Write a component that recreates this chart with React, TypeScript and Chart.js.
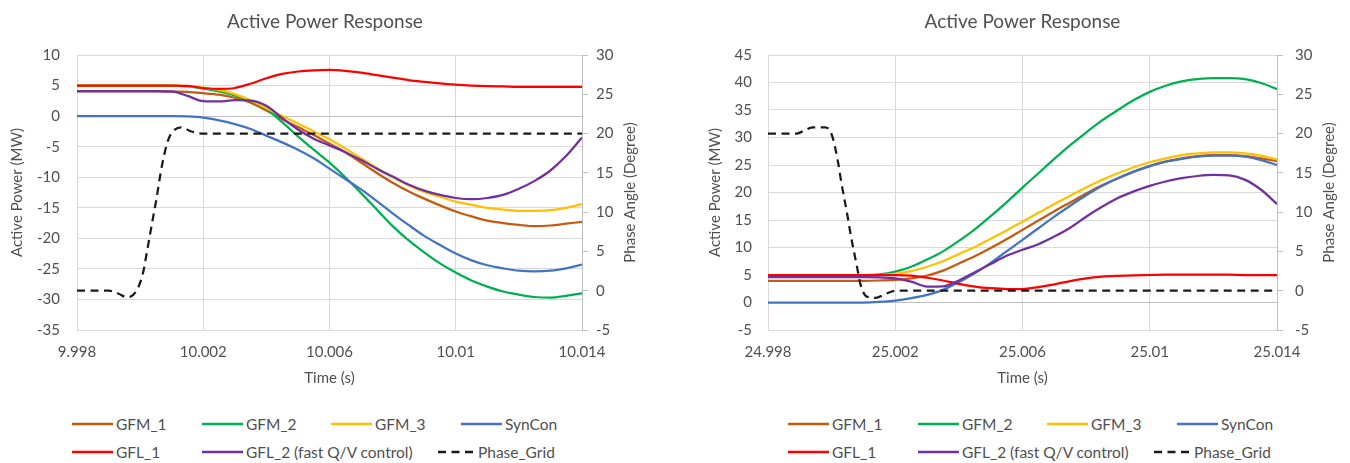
import React, { useEffect, useRef } from 'react';
import { Chart, registerables } from 'chart.js';

Chart.register(...registerables);

const FONT_FAMILY = 'Lato, "Liberation Sans", Arial, sans-serif';
const TEXT = '#505050';
const GRID = '#d9d9d9';
const AXIS = '#bfbfbf';

const SERIES_NAMES = ['GFM_1', 'GFM_2', 'GFM_3', 'SynCon', 'GFL_1', 'GFL_2 (fast Q/V control)', 'Phase_Grid'];
const SERIES_COLORS = ['#C55A11', '#00B050', '#FFC000', '#4472C4', '#FF0000', '#7030A0', '#1a1a1a'];

// ---- First event (around t = 10 s) ----
const timeA = [9.998, 9.9985, 9.999, 9.9995, 10.0, 10.0005, 10.001, 10.0015, 10.002, 10.0025, 10.003, 10.0035, 10.004, 10.0045, 10.005, 10.0055, 10.006, 10.0065, 10.007, 10.0075, 10.008, 10.0085, 10.009, 10.0095, 10.01, 10.0105, 10.011, 10.0115, 10.012, 10.0125, 10.013, 10.0135, 10.014];
const gfm1A = [4.05, 4.05, 4.05, 4.05, 4.05, 4.05, 4.0, 3.95, 3.75, 3.5, 3.0, 2.2, 0.9, -0.5, -1.8, -3.1, -4.5, -5.9, -7.6, -9.3, -10.9, -12.3, -13.5, -14.6, -15.6, -16.4, -17.1, -17.5, -17.8, -18.0, -17.9, -17.6, -17.3];
const gfm2A = [5.0, 5.0, 5.0, 5.0, 5.0, 5.0, 5.0, 4.85, 4.5, 4.05, 3.4, 2.5, 1.2, -1.0, -3.3, -5.5, -7.6, -10.0, -12.6, -15.3, -18.0, -20.3, -22.3, -24.1, -25.6, -26.9, -27.9, -28.7, -29.2, -29.6, -29.7, -29.4, -29.0];
const gfm3A = [5.0, 5.0, 5.0, 5.0, 5.0, 5.0, 5.0, 4.9, 4.65, 4.3, 3.6, 2.6, 1.3, 0.0, -1.2, -2.5, -3.8, -5.3, -6.9, -8.5, -10.0, -11.3, -12.4, -13.2, -14.0, -14.5, -15.0, -15.3, -15.5, -15.5, -15.4, -15.0, -14.4];
const synconA = [0, 0, 0, 0, 0, 0, 0, -0.05, -0.25, -0.7, -1.3, -2.1, -3.2, -4.3, -5.5, -6.9, -8.6, -10.3, -12.0, -13.9, -15.9, -17.8, -19.6, -21.1, -22.5, -23.6, -24.4, -24.9, -25.3, -25.4, -25.3, -24.9, -24.3];
const gfl1A = [5.0, 5.0, 5.0, 5.0, 5.0, 5.0, 5.0, 4.95, 4.6, 4.45, 4.6, 5.3, 6.2, 6.9, 7.3, 7.5, 7.55, 7.4, 7.1, 6.7, 6.3, 5.9, 5.6, 5.35, 5.15, 5.0, 4.9, 4.85, 4.8, 4.8, 4.8, 4.8, 4.8];
const gfl2A = [4.1, 4.1, 4.1, 4.1, 4.1, 4.1, 4.05, 3.3, 2.45, 2.4, 2.6, 2.55, 1.7, -0.3, -2.2, -3.7, -4.8, -5.9, -7.2, -8.6, -9.9, -11.2, -12.2, -12.9, -13.4, -13.6, -13.4, -12.9, -11.9, -10.6, -8.9, -6.5, -3.5];
const phaseTimeA = [9.998, 9.999, 9.9993, 9.9996, 9.9999, 10.0001, 10.0002, 10.0004, 10.0005, 10.0007, 10.0009, 10.0011, 10.0013, 10.0016, 10.002, 10.014];
const phaseA = [0, 0, -0.35, -0.85, 0.1, 2.4, 4.6, 9.1, 11.3, 16.1, 19.3, 20.5, 20.8, 20.3, 20.0, 20.0];
const xTicksA = [9.998, 10.002, 10.006, 10.01, 10.014];
const xLabelsA = ['9.998', '10.002', '10.006', '10.01', '10.014'];

// ---- Second event (around t = 25 s) ----
const timeB = [24.998, 24.9985, 24.999, 24.9995, 25.0, 25.0005, 25.001, 25.0015, 25.002, 25.0025, 25.003, 25.0035, 25.004, 25.0045, 25.005, 25.0055, 25.006, 25.0065, 25.007, 25.0075, 25.008, 25.0085, 25.009, 25.0095, 25.01, 25.0105, 25.011, 25.0115, 25.012, 25.0125, 25.013, 25.0135, 25.014];
const gfm1B = [3.95, 3.95, 3.95, 3.95, 3.95, 3.95, 3.95, 4.0, 4.1, 4.4, 4.9, 5.8, 7.1, 8.4, 9.9, 11.5, 13.2, 14.9, 16.6, 18.2, 19.8, 21.3, 22.6, 23.8, 24.8, 25.6, 26.2, 26.6, 26.8, 26.8, 26.6, 26.2, 25.7];
const gfm2B = [5.0, 5.0, 5.0, 5.0, 5.0, 5.0, 5.0, 5.1, 5.6, 6.5, 7.8, 9.3, 11.2, 13.3, 15.7, 18.2, 20.9, 23.5, 26.1, 28.6, 30.9, 33.1, 35.0, 36.8, 38.3, 39.4, 40.2, 40.6, 40.8, 40.8, 40.6, 39.9, 38.8];
const gfm3B = [5.0, 5.0, 5.0, 5.0, 5.0, 5.0, 5.0, 5.0, 5.2, 5.7, 6.5, 7.5, 8.8, 10.1, 11.6, 13.1, 14.7, 16.3, 17.9, 19.4, 20.9, 22.3, 23.5, 24.6, 25.5, 26.2, 26.8, 27.1, 27.3, 27.3, 27.1, 26.7, 26.0];
const synconB = [0, 0, 0, 0, 0, 0, 0, 0.1, 0.35, 0.8, 1.4, 2.3, 3.7, 5.3, 7.2, 9.3, 11.4, 13.5, 15.6, 17.6, 19.5, 21.2, 22.6, 23.8, 24.8, 25.6, 26.1, 26.5, 26.7, 26.7, 26.5, 25.9, 25.0];
const gfl1B = [5.0, 5.0, 5.0, 5.0, 5.0, 5.0, 5.0, 5.0, 5.0, 4.9, 4.5, 4.0, 3.4, 2.9, 2.6, 2.45, 2.45, 2.8, 3.3, 3.9, 4.4, 4.7, 4.85, 4.95, 5.0, 5.05, 5.05, 5.05, 5.05, 5.05, 5.0, 5.0, 5.0];
const gfl2B = [4.6, 4.6, 4.6, 4.6, 4.6, 4.6, 4.6, 4.55, 4.4, 3.8, 2.9, 2.95, 4.0, 5.5, 7.0, 8.5, 9.6, 10.6, 12.0, 13.6, 15.6, 17.4, 19.0, 20.2, 21.2, 22.0, 22.6, 23.0, 23.2, 23.1, 22.3, 20.5, 17.9];
const phaseTimeB = [24.998, 24.9989, 24.9991, 24.9994, 24.9998, 25.0, 25.0002, 25.0003, 25.0005, 25.0006, 25.0008, 25.0009, 25.0011, 25.0014, 25.0017, 25.002, 25.014];
const phaseB = [20, 20, 20.3, 20.8, 20.8, 19.9, 16.4, 13.9, 9.5, 7.1, 3.0, 0.9, -0.75, -0.9, -0.4, 0, 0];
const xTicksB = [24.998, 25.002, 25.006, 25.01, 25.014];
const xLabelsB = ['24.998', '25.002', '25.006', '25.01', '25.014'];

type Panel = {
  time: number[];
  series: number[][];
  phaseTime: number[];
  phase: number[];
  xTicks: number[];
  xLabels: string[];
  powerMin: number;
  powerMax: number;
  canvasLeft: number;
  canvasWidth: number;
  leftAxisWidth: number;
  rightAxisWidth: number;
  leftTitlePad: number;
  leftTickPad: number;
  rightTickPad: number;
  rightTitleOffset: number;
  titleFullSize: boolean;
};

const panels: Panel[] = [
  {
    time: timeA,
    series: [gfm1A, gfm2A, gfm3A, synconA, gfl1A, gfl2A],
    phaseTime: phaseTimeA,
    phase: phaseA,
    xTicks: xTicksA,
    xLabels: xLabelsA,
    powerMin: -35,
    powerMax: 10,
    canvasLeft: 0,
    canvasWidth: 650,
    leftAxisWidth: 77,
    rightAxisWidth: 68,
    leftTitlePad: 8,
    leftTickPad: 17,
    rightTickPad: 8,
    rightTitleOffset: 19.5,
    titleFullSize: true,
  },
  {
    time: timeB,
    series: [gfm1B, gfm2B, gfm3B, synconB, gfl1B, gfl2B],
    phaseTime: phaseTimeB,
    phase: phaseB,
    xTicks: xTicksB,
    xLabels: xLabelsB,
    powerMin: -5,
    powerMax: 45,
    canvasLeft: 690,
    canvasWidth: 660,
    leftAxisWidth: 78,
    rightAxisWidth: 73,
    leftTitlePad: 16,
    leftTickPad: 16,
    rightTickPad: 12,
    rightTitleOffset: 21,
    titleFullSize: false,
  },
];

const CANVAS_HEIGHT = 400;

function rightAxisTitle(text: string, offset: number) {
  return {
    id: 'rightAxisTitle',
    afterDraw(chart: any) {
      const s = chart.scales.y1;
      const { ctx, chartArea } = chart;
      ctx.save();
      ctx.translate(s.right - offset, (chartArea.top + chartArea.bottom) / 2);
      ctx.rotate(-Math.PI / 2);
      ctx.font = `15px ${FONT_FAMILY}`;
      ctx.fillStyle = TEXT;
      ctx.textAlign = 'center';
      ctx.textBaseline = 'middle';
      ctx.fillText(text, 0, 0);
      ctx.restore();
    },
  };
}

function buildConfig(p: Panel): any {
  const datasets: any[] = p.series.map((values, i) => ({
    label: SERIES_NAMES[i],
    data: p.time.map((t, k) => ({ x: t, y: values[k] })),
    borderColor: SERIES_COLORS[i],
    backgroundColor: SERIES_COLORS[i],
    borderWidth: 2.25,
    pointRadius: 0,
    cubicInterpolationMode: 'monotone',
    yAxisID: 'y',
    order: 7 - i,
  }));
  datasets.push({
    label: SERIES_NAMES[6],
    data: p.phaseTime.map((t, k) => ({ x: t, y: p.phase[k] })),
    borderColor: SERIES_COLORS[6],
    backgroundColor: SERIES_COLORS[6],
    borderWidth: 2.25,
    borderDash: [8, 5.5],
    pointRadius: 0,
    cubicInterpolationMode: 'monotone',
    yAxisID: 'y1',
    order: 0,
  });

  const tickFont = { family: FONT_FAMILY, size: 15 };
  const titleFont = { family: FONT_FAMILY, size: 15 };

  return {
    type: 'line',
    data: { datasets },
    options: {
      responsive: false,
      maintainAspectRatio: false,
      animation: false,
      layout: { padding: 0 },
      plugins: {
        legend: { display: false },
        tooltip: { enabled: false },
        title: {
          display: true,
          text: 'Active Power Response',
          color: TEXT,
          font: { family: FONT_FAMILY, size: 19, weight: 'normal' },
          padding: { top: 10.6, bottom: 21.6 },
          fullSize: p.titleFullSize,
        },
      },
      scales: {
        x: {
          type: 'linear',
          min: p.xTicks[0],
          max: p.xTicks[p.xTicks.length - 1],
          afterBuildTicks: (scale: any) => {
            scale.ticks = p.xTicks.map((v) => ({ value: v }));
          },
          afterFit: (scale: any) => {
            scale.height = 70;
          },
          ticks: {
            callback: (_v: any, i: number) => p.xLabels[i],
            color: TEXT,
            font: tickFont,
            padding: 13.5,
            maxRotation: 0,
            autoSkip: false,
          },
          grid: { color: GRID, drawTicks: false, lineWidth: 1 },
          border: { display: false },
          title: {
            display: true,
            text: 'Time (s)',
            color: TEXT,
            font: titleFont,
            padding: { top: 0, bottom: 13 },
          },
        },
        y: {
          position: 'left',
          min: p.powerMin,
          max: p.powerMax,
          afterFit: (scale: any) => {
            scale.width = p.leftAxisWidth;
          },
          ticks: { stepSize: 5, color: TEXT, font: tickFont, padding: p.leftTickPad },
          grid: {
            color: (c: any) => (c.tick && c.tick.value === 0 ? AXIS : GRID),
            drawTicks: false,
            lineWidth: 1,
          },
          border: { display: false },
          title: {
            display: true,
            text: 'Active Power (MW)',
            color: TEXT,
            font: titleFont,
            padding: { top: p.leftTitlePad, bottom: 0 },
          },
        },
        y1: {
          position: 'right',
          min: -5,
          max: 30,
          afterFit: (scale: any) => {
            scale.width = p.rightAxisWidth;
          },
          ticks: { stepSize: 5, color: TEXT, font: tickFont, padding: p.rightTickPad },
          grid: { drawOnChartArea: false, drawTicks: true, tickLength: 6, color: AXIS },
          border: { display: true, color: AXIS },
          title: { display: false },
        },
      },
    },
    plugins: [rightAxisTitle('Phase Angle (Degree)', p.rightTitleOffset)],
  };
}

function PowerPanel({ panel }: { panel: Panel }) {
  const ref = useRef<HTMLCanvasElement>(null);
  useEffect(() => {
    const canvas = ref.current;
    if (!canvas) return;
    const chart = new Chart(canvas, buildConfig(panel));
    return () => chart.destroy();
  }, [panel]);
  return (
    <canvas
      ref={ref}
      width={panel.canvasWidth}
      height={CANVAS_HEIGHT}
      style={{
        position: 'absolute',
        left: panel.canvasLeft,
        top: 0,
        width: panel.canvasWidth,
        height: CANVAS_HEIGHT,
      }}
    />
  );
}

function LegendSwatch({ color, dashed, width }: { color: string; dashed?: boolean; width: number }) {
  return (
    <svg width={width} height={6} style={{ display: 'block', flex: 'none' }}>
      <line
        x1={0}
        y1={3}
        x2={width}
        y2={3}
        stroke={color}
        strokeWidth={2.3}
        strokeDasharray={dashed ? '8 5.5' : undefined}
      />
    </svg>
  );
}

function LegendItem({ index, x, y, swatch, gap, dashed }: { index: number; x: number; y: number; swatch: number; gap: number; dashed?: boolean }) {
  return (
    <div
      style={{
        position: 'absolute',
        left: x,
        top: y - 10,
        height: 20,
        display: 'flex',
        alignItems: 'center',
        whiteSpace: 'nowrap',
        fontFamily: FONT_FAMILY,
        fontSize: 15.5,
        color: TEXT,
      }}
    >
      <LegendSwatch color={SERIES_COLORS[index]} dashed={dashed} width={swatch} />
      <span style={{ marginLeft: gap }}>{SERIES_NAMES[index]}</span>
    </div>
  );
}

function Legend({ left }: { left: number }) {
  const cols = [0, 130, 259, 389];
  const row1 = 424;
  const row2 = 452;
  return (
    <>
      {[0, 1, 2, 3].map((i) => (
        <LegendItem key={i} index={i} x={left + cols[i]} y={row1} swatch={41} gap={3} />
      ))}
      <LegendItem index={4} x={left + cols[0]} y={row2} swatch={41} gap={3} />
      <LegendItem index={5} x={left + cols[1]} y={row2} swatch={41} gap={3} />
      <LegendItem index={6} x={left + 366} y={row2} swatch={35} gap={5} dashed />
    </>
  );
}

export default function App() {
  return (
    <div
      style={{
        position: 'fixed',
        left: 0,
        top: 0,
        width: 1350,
        height: 463,
        background: '#ffffff',
        overflow: 'hidden',
      }}
    >
      {panels.map((p, i) => (
        <PowerPanel key={i} panel={p} />
      ))}
      <Legend left={72} />
      <Legend left={788} />
    </div>
  );
}
